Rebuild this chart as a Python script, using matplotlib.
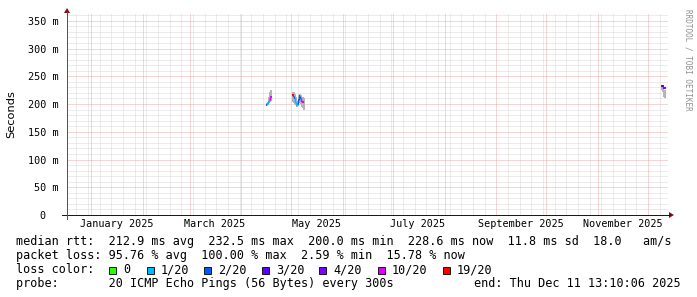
import matplotlib
matplotlib.use("Agg")
import matplotlib.pyplot as plt
import matplotlib.dates as mdates
from matplotlib.patches import Rectangle, Polygon
from matplotlib.lines import Line2D
import numpy as np
import pandas as pd

W, H = 697, 297

# --- data ---
sample_times = [
    "2025-04-16 00:00", "2025-04-16 14:00", "2025-04-17 05:00", "2025-04-17 19:00",
    "2025-04-18 10:00", "2025-04-19 00:00",
    "2025-05-01 22:00", "2025-05-02 12:00", "2025-05-03 02:00", "2025-05-03 17:00",
    "2025-05-04 07:00", "2025-05-04 22:00", "2025-05-05 12:00", "2025-05-06 02:00",
    "2025-05-06 17:00", "2025-05-07 07:00", "2025-05-07 22:00", "2025-05-08 12:00",
    "2025-12-09 08:00", "2025-12-09 22:00", "2025-12-10 12:00", "2025-12-11 02:00",
    "2025-12-11 13:00",
]
median_ms = [199, 200, 204, 207, 212, 213,
             217, 215, 210, 203, 199, 200, 208, 215, 210, 205, 204, 203,
             232.5, 232, 229, 228.6, 228.6]
loss_count = [2, 1, 1, 1, 10, 10,
              19, 19, 2, 1, 1, 1, 2, 2, 2, 10, 10, 10,
              3, 3, 4, 4, 4]
smoke_lo = [197, 198, 200, 201, 203, 205,
            204, 201, 200, 198, 195, 196, 201, 203, 200, 195, 192, 190,
            226, 222, 212, 210, 211]
smoke_hi = [201, 204, 212, 222, 226, 225,
            222, 222, 218, 212, 204, 206, 216, 218, 216, 213, 212, 210,
            234, 233, 226, 225, 225]

loss_levels = [0, 1, 2, 3, 4, 10, 19]
loss_labels = ["0", "1/20", "2/20", "3/20", "4/20", "10/20", "19/20"]
loss_colors = ["#26ff00", "#00b8ff", "#0059ff", "#5e00ff", "#7e00ff", "#dd00ff", "#ff0000"]

y_ticks = [0, 50, 100, 150, 200, 250, 300, 350]
y_ticklabels = ["0  ", "50 m", "100 m", "150 m", "200 m", "250 m", "300 m", "350 m"]
month_labels = ["January 2025", "March 2025", "May 2025", "July 2025",
                "September 2025", "November 2025"]
label_months = ["2025-01-16", "2025-03-16", "2025-05-16", "2025-07-16",
                "2025-09-16", "2025-11-16"]

legend_rows = [
    "median rtt:  212.9 ms avg  232.5 ms max  200.0 ms min  228.6 ms now  11.8 ms sd  18.0   am/s",
    "packet loss: 95.76 % avg  100.00 % max  2.59 % min  15.78 % now",
]
probe_text = "probe:       20 ICMP Echo Pings (56 Bytes) every 300s"
end_text = "end: Thu Dec 11 13:10:06 2025"

MONO = "DejaVu Sans Mono"


def fx(px):
    return px / W


def fy(py):
    return 1 - py / H


def loss_color(n):
    c = loss_colors[0]
    for lv, col in zip(loss_levels, loss_colors):
        if n >= lv:
            c = col
    return c


fig = plt.figure(figsize=(W / 100, H / 100), dpi=100)
fig.patch.set_facecolor("white")

ax = fig.add_axes([fx(67), fy(215), (668 - 67) / W, (215 - 13) / H])
ax.set_facecolor("white")
for s in ax.spines.values():
    s.set_visible(False)

px_per_day = 1.6667
x0 = mdates.date2num(pd.Timestamp("2024-12-17 10:00"))
x1 = x0 + 601 / px_per_day
ax.set_xlim(x0, x1)
ax.set_ylim(0, 364)

# grid: weekly (Mondays) minor, monthly major; 10 m minor, 50 m major
px1 = 72 / 100
dot = (0, (1, 1))
minor_c = "#d8d8d8"
major_c = "#eeaaaa"
mondays = pd.date_range("2024-12-16", "2025-12-31", freq="W-MON")
months = pd.date_range("2025-01-01", "2025-12-01", freq="MS")
for d in mondays:
    if d.day != 1:
        ax.axvline(mdates.date2num(d), color=minor_c, lw=px1, ls=dot, zorder=0)
for yv in range(10, 364, 10):
    if yv % 50:
        ax.axhline(yv, color=minor_c, lw=px1, ls=dot, zorder=0)
for d in months:
    ax.axvline(mdates.date2num(d), color=major_c, lw=px1, ls=dot, zorder=1)
for yv in y_ticks[1:]:
    ax.axhline(yv, color=major_c, lw=px1, ls=dot, zorder=1)

# smoke and median
t = mdates.date2num(pd.to_datetime(sample_times))
ax.bar(t, np.subtract(smoke_hi, smoke_lo), bottom=smoke_lo, width=0.9,
       color="#b4b4b4", linewidth=0, zorder=2)
for i in range(len(t)):
    c = loss_color(loss_count[i])
    ax.hlines(median_ms[i], t[i] - 0.4, t[i] + 0.4, colors=c, lw=1.4, zorder=3)
    if i > 0 and t[i] - t[i - 1] < 1.0:
        ax.vlines(t[i] - 0.3, median_ms[i - 1], median_ms[i], colors=c, lw=1.0, zorder=3)

# ticks / labels
ax.set_yticks(y_ticks)
ax.set_yticklabels(y_ticklabels, family=MONO, fontsize=7.3)
ax.tick_params(axis="y", length=0, pad=6)
ax.set_xticks(mdates.date2num(pd.to_datetime(label_months)))
ax.set_xticklabels(month_labels, family=MONO, fontsize=7.3)
ax.tick_params(axis="x", length=0, pad=3)

# axes lines with arrows
fig.add_artist(Line2D([fx(62), fx(670)], [fy(215), fy(215)], color="#1a1a1a", lw=px1))
fig.add_artist(Line2D([fx(67), fx(67)], [fy(219), fy(12)], color="#555555", lw=px1))
fig.add_artist(Polygon([[fx(669), fy(212)], [fx(669), fy(218)], [fx(674), fy(215)]],
                       closed=True, color="#7f1010", lw=0))
fig.add_artist(Polygon([[fx(64), fy(13)], [fx(70), fy(13)], [fx(67), fy(8)]],
                       closed=True, color="#7f1010", lw=0))

fig.text(fx(11), fy(114), "Seconds", rotation=90, ha="center", va="center",
         fontsize=8.2, family="DejaVu Sans")
fig.text(fx(688), fy(60), "RRDTOOL / TOBI OETIKER", rotation=270, ha="center",
         va="center", fontsize=5.5, family=MONO, color="#909090")

# legend block
fs = 8.45
fig.text(fx(16), fy(245.5), legend_rows[0], family=MONO, fontsize=fs, va="baseline")
fig.text(fx(16), fy(259.3), legend_rows[1], family=MONO, fontsize=fs, va="baseline")
fig.text(fx(16), fy(273.1), "loss color:", family=MONO, fontsize=fs, va="baseline")
sq_x = [109, 147, 204, 262, 319, 378, 443]
for sx, lab, col in zip(sq_x, loss_labels, loss_colors):
    fig.add_artist(Rectangle((fx(sx), fy(273.5)), 7 / W, 7 / H, facecolor=col,
                             edgecolor="black", lw=0.6))
    fig.text(fx(sx + 14), fy(273.1), lab, family=MONO, fontsize=fs, va="baseline")
fig.text(fx(16), fy(286.9), probe_text, family=MONO, fontsize=fs, va="baseline")
fig.text(fx(681), fy(286.9), end_text, family=MONO, fontsize=fs, va="baseline", ha="right")

fig.savefig("out.png", dpi=100, facecolor="white")
